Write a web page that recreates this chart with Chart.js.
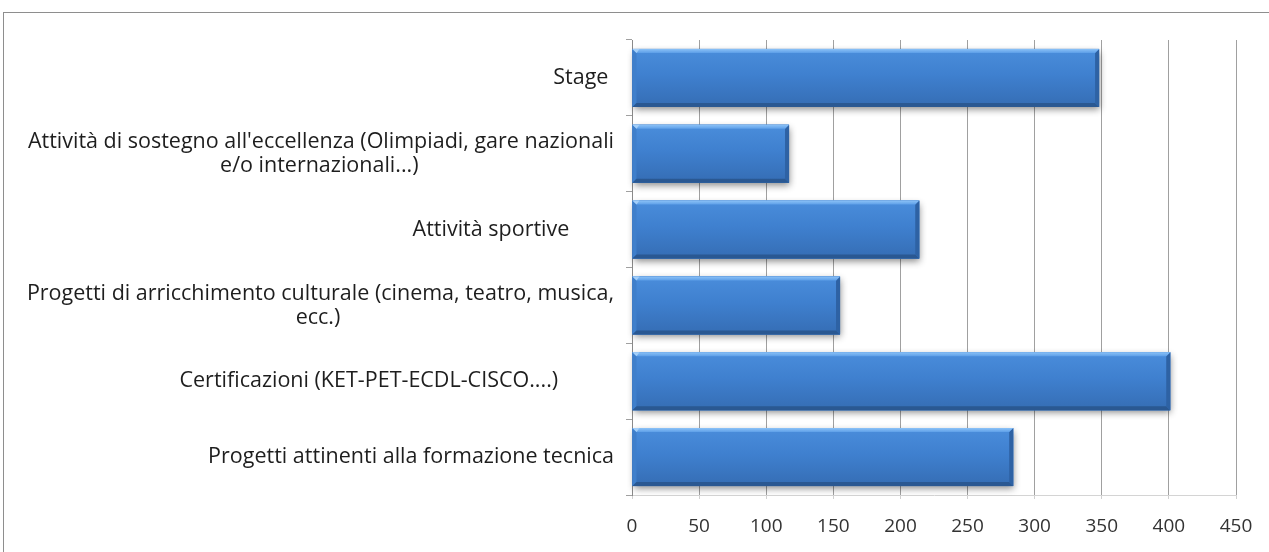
<!DOCTYPE html>
<html>
<head>
<meta charset="utf-8">
<script src="https://cdn.jsdelivr.net/npm/chart.js@4/dist/chart.umd.min.js"></script>
<style>
  html, body { margin: 0; padding: 0; background: #ffffff; overflow: hidden; }
  #wrap { position: relative; width: 1269px; height: 552px; }
  #frame {
    position: absolute; left: 3px; top: 12px; width: 1300px; height: 600px;
    border-left: 1px solid #8e8e8e; border-top: 1px solid #8e8e8e;
    pointer-events: none;
  }
  canvas { position: absolute; left: 0; top: 0; }
</style>
</head>
<body>
<div id="wrap">
  <canvas id="chart" width="1269" height="552"></canvas>
  <div id="frame"></div>
</div>
<script>
// Categories (one array of lines per wrapped label), top to bottom
const categories = [
  ['Stage '],
  ["Attività di sostegno all'eccellenza (Olimpiadi, gare nazionali", 'e/o internazionali...)'],
  ['Attività sportive        '],
  ['Progetti di arricchimento culturale (cinema, teatro, musica,', 'ecc.)'],
  ['Certificazioni (KET-PET-ECDL-CISCO....)          '],
  ['Progetti attinenti alla formazione tecnica']
];
const values = [348, 117, 214, 155, 401, 284];
const axisMin = 0;
const axisMax = 450;
const axisStep = 50;

const FONT_FAMILY = '"Open Sans", "Noto Sans", sans-serif';
const LABEL_SIZE = 21.5;
const TICK_SIZE = 19;

// Pad the shorter lines of a wrapped label so every line sits centred under the longest one
function centreLines(lines) {
  if (lines.length < 2) return lines.length === 1 ? lines[0] : lines;
  const m = document.createElement('canvas').getContext('2d');
  m.font = LABEL_SIZE + 'px ' + FONT_FAMILY;
  const space = m.measureText(' ').width || 5;
  const widths = lines.map(l => m.measureText(l).width);
  const maxW = Math.max(...widths);
  return lines.map((l, i) => l + ' '.repeat(Math.max(0, Math.round((maxW - widths[i]) / 2 / space))));
}
const labels = categories.map(centreLines);

// Excel-like bevelled bar: soft drop shadow underneath, gradient body, bevel edges on top
const bevelBars = {
  id: 'bevelBars',
  beforeDatasetsDraw(chart) {
    const ctx = chart.ctx;
    chart.getDatasetMeta(0).data.forEach(el => {
      const p = el.getProps(['x', 'y', 'base', 'height'], true);
      const L = Math.min(p.base, p.x), R = Math.max(p.base, p.x);
      const T = p.y - p.height / 2, B = p.y + p.height / 2;
      ctx.save();
      ctx.shadowColor = 'rgba(0,0,0,0.45)';
      ctx.shadowBlur = 7;
      ctx.shadowOffsetX = 1;
      ctx.shadowOffsetY = 3;
      ctx.fillStyle = '#3a74bd';
      ctx.fillRect(L, T, R - L, B - T);
      ctx.restore();
    });
  },
  afterDatasetsDraw(chart) {
    const ctx = chart.ctx;
    const b = 4;
    chart.getDatasetMeta(0).data.forEach(el => {
      const p = el.getProps(['x', 'y', 'base', 'height'], true);
      const L = Math.min(p.base, p.x), R = Math.max(p.base, p.x);
      const T = p.y - p.height / 2, B = p.y + p.height / 2;
      ctx.save();
      // body
      const g = ctx.createLinearGradient(0, T, 0, B);
      g.addColorStop(0, '#4a8ddb');
      g.addColorStop(0.45, '#3f80cf');
      g.addColorStop(1, '#356db4');
      ctx.fillStyle = g;
      ctx.fillRect(L, T, R - L, B - T);
      const poly = (pts, fill) => {
        ctx.beginPath();
        ctx.moveTo(pts[0][0], pts[0][1]);
        for (let i = 1; i < pts.length; i++) ctx.lineTo(pts[i][0], pts[i][1]);
        ctx.closePath();
        ctx.fillStyle = fill;
        ctx.fill();
      };
      // left edge
      poly([[L, T], [L + b, T + b], [L + b, B - b], [L, B]], '#3f7fcb');
      // bottom edge
      poly([[L, B], [L + b, B - b], [R - b, B - b], [R, B]], '#2a5892');
      // right edge
      poly([[R, T], [R, B], [R - b, B - b], [R - b, T + b]], '#2e62a4');
      // top edge
      const gt = ctx.createLinearGradient(0, T, 0, T + b);
      gt.addColorStop(0, '#8cc2f7');
      gt.addColorStop(1, '#5d9fe8');
      poly([[L, T], [R, T], [R - b, T + b], [L + b, T + b]], gt);
      // top-left corner highlight
      poly([[L, T], [L + b + 3, T], [L + b, T + b]], '#a4cff9');
      ctx.restore();
    });
  }
};

new Chart(document.getElementById('chart'), {
  type: 'bar',
  data: {
    labels: labels,
    datasets: [{
      data: values,
      backgroundColor: '#3e7fcd',
      borderWidth: 0,
      barPercentage: 0.765,
      categoryPercentage: 1
    }]
  },
  options: {
    indexAxis: 'y',
    responsive: false,
    animation: false,
    events: [],
    layout: { padding: { top: 40, right: 33, bottom: 0, left: 0 } },
    plugins: { legend: { display: false }, tooltip: { enabled: false } },
    scales: {
      x: {
        min: axisMin,
        max: axisMax,
        afterFit(scale) { scale.height = 57; },
        ticks: {
          stepSize: axisStep,
          color: '#333333',
          padding: 16,
          font: { family: FONT_FAMILY, size: TICK_SIZE }
        },
        grid: { color: '#a0a0a0', lineWidth: 1, tickLength: 4, tickColor: '#d0d0d0' },
        border: { color: '#d4d4d4' }
      },
      y: {
        afterFit(scale) { scale.width = 632; },
        ticks: {
          color: '#1e1e1e',
          padding: 12,
          font: { family: FONT_FAMILY, size: LABEL_SIZE, lineHeight: '24px' }
        },
        grid: { drawOnChartArea: false, offset: true, tickLength: 6, color: '#a0a0a0' },
        border: { color: '#8a8a8a' }
      }
    }
  },
  plugins: [bevelBars]
});
</script>
</body>
</html>
